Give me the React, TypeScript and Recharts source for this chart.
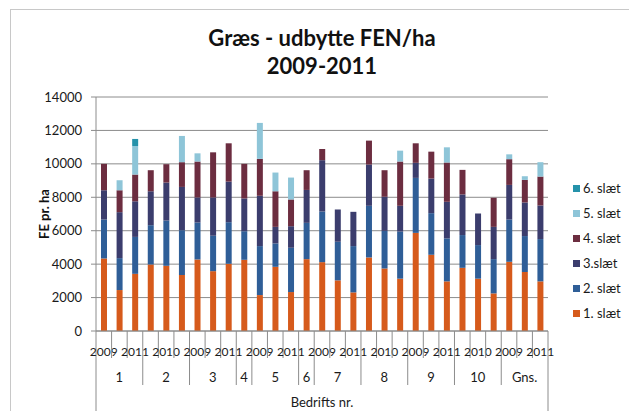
import { BarChart, Bar, XAxis, YAxis, CartesianGrid } from 'recharts'

const groups = ['1', '2', '3', '4', '5', '6', '7', '8', '9', '10', 'Gns.']
const groupSizes = [3, 3, 3, 1, 3, 1, 3, 3, 3, 3, 3]
const years = [
  '2009', '2010', '2011', '2009', '2010', '2011', '2009', '2010', '2011', '2011',
  '2009', '2010', '2011', '2011', '2009', '2010', '2011', '2009', '2010', '2011',
  '2009', '2010', '2011', '2009', '2010', '2011', '2009', '2010', '2011',
]

const slaet1 = [4340, 2450, 3420, 3980, 3900, 3350, 4280, 3580, 4020, 4260, 2150, 3840, 2330, 4300, 4120, 3030, 2310, 4400, 3740, 3130, 5870, 4560, 2970, 3780, 3130, 2250, 4140, 3530, 2970]
const slaet2 = [2330, 1910, 2210, 2350, 2710, 2680, 2210, 2120, 2490, 1710, 2930, 1400, 2650, 2170, 3030, 2310, 2770, 3090, 2250, 2820, 3290, 2490, 2570, 1960, 2010, 2050, 2530, 2150, 2530]
const slaet3 = [1750, 2750, 2130, 2030, 2270, 2590, 1500, 2290, 2430, 1960, 3010, 990, 1290, 1970, 3070, 1930, 2050, 2470, 2040, 1540, 900, 2070, 2190, 2430, 1890, 1930, 2070, 2010, 2010]
const slaet4 = [1580, 1310, 1600, 1260, 1100, 1480, 2150, 2700, 2290, 2070, 2210, 2130, 1600, 1180, 670, 0, 0, 1430, 1590, 2650, 1170, 1610, 2350, 1470, 0, 1740, 1540, 1350, 1730]
const slaet5 = [0, 600, 1710, 0, 0, 1570, 490, 0, 0, 0, 2150, 1120, 1310, 0, 0, 0, 0, 0, 0, 650, 0, 0, 910, 0, 0, 0, 290, 220, 860]
const slaet6 = [0, 0, 420, 0, 0, 0, 0, 0, 0, 0, 0, 0, 0, 0, 0, 0, 0, 0, 0, 0, 0, 0, 0, 0, 0, 0, 0, 0, 0]

const series = [
  { key: 's1', name: '1. slæt', color: '#D65A1B' },
  { key: 's2', name: '2. slæt', color: '#2F5E97' },
  { key: 's3', name: '3.slæt', color: '#3B3D6D' },
  { key: 's4', name: '4. slæt', color: '#6C2D40' },
  { key: 's5', name: '5. slæt', color: '#8EC5D8' },
  { key: 's6', name: '6. slæt', color: '#2592AA' },
]

// which group each category belongs to, and where the groups start
const groupOf: number[] = []
const groupStart: boolean[] = []
groupSizes.forEach((n, g) => {
  for (let i = 0; i < n; i++) {
    groupOf.push(g)
    groupStart.push(i === 0)
  }
})

const data = years.map((year, i) => ({
  year,
  group: groups[groupOf[i]],
  s1: slaet1[i],
  s2: slaet2[i],
  s3: slaet3[i],
  s4: slaet4[i],
  s5: slaet5[i],
  s6: slaet6[i],
}))

const W = 629
const H = 411
const PLOT_LEFT = 96
const PLOT_RIGHT = 548
const BAND = (PLOT_RIGHT - PLOT_LEFT) / data.length
const FONT = 'Lato, "Open Sans", sans-serif'
const LINE = '#8C8C8C'

function CatTick(props: any) {
  const { x, y, payload } = props
  const i: number = payload.index
  const x0 = x - BAND / 2
  const last = i === data.length - 1
  const g = groupOf[i]
  const first = groupOf.indexOf(g)
  const mid = first + Math.floor(groupSizes[g] / 2)
  const len = i === 0 ? 80 : groupStart[i] ? 54 : 27
  return (
    <g>
      <line x1={x0} y1={y} x2={x0} y2={y + len} stroke={LINE} />
      {last && <line x1={x + BAND / 2} y1={y} x2={x + BAND / 2} y2={y + 80} stroke={LINE} />}
      {i % 2 === 0 && (
        <text x={x} y={y + 25} textAnchor="middle" fontSize={12} fill="#1a1a1a" fontFamily={FONT}>
          {payload.value}
        </text>
      )}
      {i === mid && (
        <text x={x} y={y + 51} textAnchor="middle" fontSize={13} fill="#1a1a1a" fontFamily={FONT}>
          {groups[g]}
        </text>
      )}
    </g>
  )
}

export default function App() {
  return (
    <div style={{ position: 'absolute', left: 0, top: 0, width: W, height: H, overflow: 'hidden', background: '#fff' }}>
      <div style={{ position: 'absolute', left: 10, top: 9, width: 700, height: 500, border: '1px solid #C8C8C8' }} />
      <div
        style={{
          position: 'absolute', left: 0, top: 24, width: 644, textAlign: 'center',
          fontFamily: FONT, fontWeight: 700, fontSize: 22, lineHeight: '28px', color: '#111',
        }}
      >
        Græs - udbytte FEN/ha
        <br />
        2009-2011
      </div>
      <div
        style={{
          position: 'absolute', left: 44, top: 214, transform: 'translate(-50%, -50%) rotate(-90deg)',
          fontFamily: FONT, fontWeight: 700, fontSize: 13, whiteSpace: 'nowrap', color: '#111',
        }}
      >
        FE pr. ha
      </div>
      <div style={{ position: 'absolute', left: 0, top: 0 }}>
        <BarChart width={W} height={H} data={data} margin={{ top: 97, right: W - PLOT_RIGHT, bottom: 0, left: 0 }} barSize={6}>
          <CartesianGrid vertical={false} stroke={LINE} />
          <XAxis
            dataKey="year"
            height={80}
            interval={0}
            tickSize={0}
            tickMargin={0}
            axisLine={{ stroke: LINE }}
            tickLine={false}
            tick={(p: any) => <CatTick {...p} />}
            label={{ value: 'Bedrifts nr.', position: 'insideBottom', offset: 4, fontSize: 13, fill: '#1a1a1a', fontFamily: FONT }}
          />
          <YAxis
            width={PLOT_LEFT}
            domain={[0, 14000]}
            ticks={[0, 2000, 4000, 6000, 8000, 10000, 12000, 14000]}
            tickSize={5}
            tickMargin={9}
            axisLine={{ stroke: LINE }}
            tickLine={{ stroke: LINE }}
            tick={{ fontSize: 13, fill: '#1a1a1a', fontFamily: FONT }}
          />
          {series.map((s) => (
            <Bar key={s.key} dataKey={s.key} name={s.name} stackId="a" fill={s.color} isAnimationActive={false} />
          ))}
        </BarChart>
      </div>
      {series.slice().reverse().map((s, k) => (
        <div
          key={s.key}
          style={{
            position: 'absolute', left: 573, top: 180 + k * 25, height: 16, display: 'flex', alignItems: 'center',
            fontFamily: FONT, fontSize: 13, color: '#1a1a1a', whiteSpace: 'nowrap',
          }}
        >
          <span style={{ width: 7, height: 7, background: s.color, marginRight: 3 }} />
          {s.name}
        </div>
      ))}
    </div>
  )
}
